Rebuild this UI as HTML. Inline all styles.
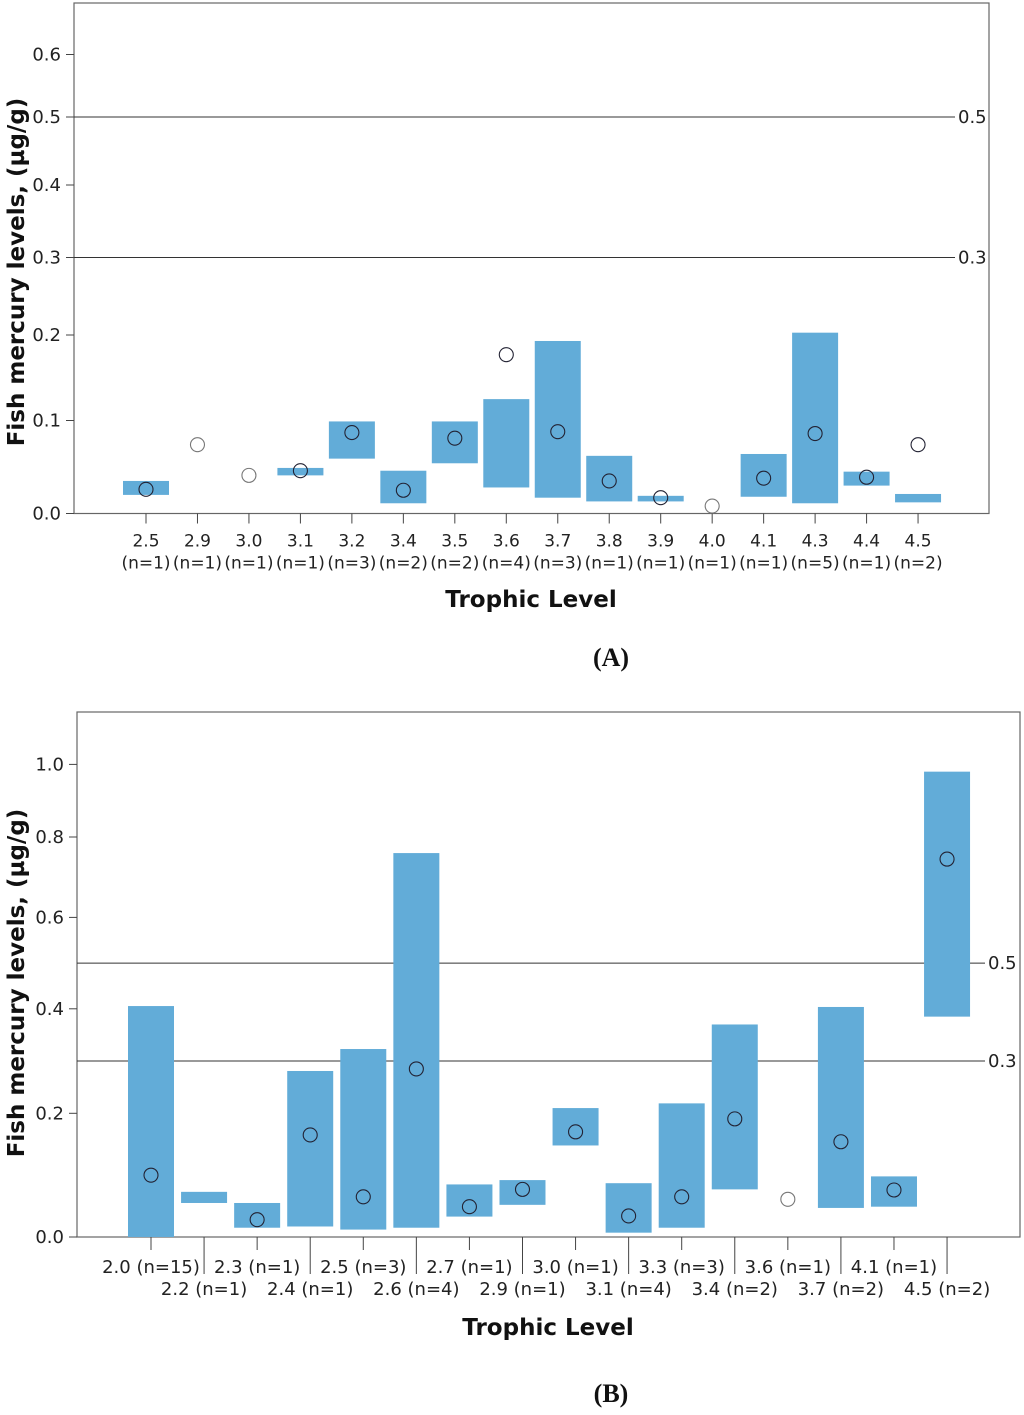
<!DOCTYPE html>
<html><head><meta charset="utf-8"><style>
body{margin:0;background:#fff;}
svg{display:block;font-family:"DejaVu Sans","Liberation Sans",sans-serif;}
</style></head><body>
<svg id="root" width="1024" height="1415" viewBox="0 0 1024 1415"></svg>
<script>
// Chart A data
const catsA = ["2.5","2.9","3.0","3.1","3.2","3.4","3.5","3.6","3.7","3.8","3.9","4.0","4.1","4.3","4.4","4.5"];
const nA = [1,1,1,1,3,2,2,4,3,1,1,1,1,5,1,2];
const hiA = [0.035,null,null,0.049,0.099,0.046,0.099,0.125,0.193,0.062,0.019,null,0.064,0.203,0.045,0.021];
const loA = [0.020,null,null,0.041,0.059,0.011,0.054,0.028,0.017,0.013,0.013,null,0.018,0.011,0.030,0.012];
const medA = [0.026,0.074,0.041,0.046,0.087,0.025,0.081,0.177,0.088,0.035,0.017,0.008,0.038,0.086,0.039,0.074];
const tickValsA = [0,0.1,0.2,0.3,0.4,0.5,0.6];
const tickLabelsA = ["0.0","0.1","0.2","0.3","0.4","0.5","0.6"];
const refA = [0.5,0.3];
// Chart B data
const catsB = ["2.0","2.2","2.3","2.4","2.5","2.6","2.7","2.9","3.0","3.1","3.3","3.4","3.6","3.7","4.1","4.5"];
const nB = [15,1,1,1,3,4,1,1,1,4,3,2,1,2,1,2];
const hiB = [0.406,0.073,0.055,0.281,0.323,0.76,0.085,0.092,0.21,0.087,0.219,0.37,null,0.404,0.098,0.98];
const loB = [0.0,0.055,0.015,0.017,0.012,0.015,0.033,0.052,0.148,0.007,0.015,0.077,null,0.047,0.049,0.385];
const medB = [0.100,null,0.028,0.165,0.065,0.285,0.049,0.077,0.17,0.034,0.065,0.191,0.061,0.154,0.076,0.745];
const tickValsB = [0,0.2,0.4,0.6,0.8,1.0];
const tickLabelsB = ["0.0","0.2","0.4","0.6","0.8","1.0"];
const refB = [0.5,0.3];

const NS="http://www.w3.org/2000/svg";
const root=document.getElementById('root');
function mk(tag,attrs,parent,text){const e=document.createElementNS(NS,tag);for(const k in attrs)e.setAttribute(k,attrs[k]);if(text!==undefined)e.textContent=text;(parent||root).appendChild(e);return e;}
// piecewise axis scale (non-linear axis as in the original)
function makeY(vals,pix){return v=>{for(let i=0;i<vals.length-1;i++){if(v<=vals[i+1]||i===vals.length-2){const t=(v-vals[i])/(vals[i+1]-vals[i]);return pix[i]+t*(pix[i+1]-pix[i]);}}};}
const BLUE="#62acd8";

function drawChart(o){
  const g=mk('g',{},root);
  
  
  const y=makeY(o.scaleVals,o.scalePix);
  const x=i=>o.x0+i*o.dx;
  const fr=mk('rect',{x:o.L,y:o.T,width:o.R-o.L,height:o.B-o.T,fill:'none',stroke:'#666','stroke-width':1.2},g);
  
  o.tickVals.forEach((v,i)=>{
    const yy=y(v);
    const t=mk('line',{x1:o.L-8,x2:o.L,y1:yy,y2:yy,stroke:'#444'},g);
    
    const lb=mk('text',{x:o.L-13,y:yy+6,'text-anchor':'end','font-size':18,fill:'#222'},g,o.tickLabels[i]);
    
  });
  o.refs.forEach(v=>{
    const yy=y(v);
    const l=mk('line',{x1:o.L,x2:o.refEnd,y1:yy,y2:yy,stroke:'#333','stroke-width':1},g);
    
    const t=mk('text',{x:o.refEnd+3,y:yy+6,'font-size':18,fill:'#222'},g,v.toFixed(1));
    
  });
  o.cats.forEach((c,i)=>{
    const cx=x(i);
    if(o.hi[i]!==null){
      const r=mk('rect',{x:cx-o.bw/2,y:y(o.hi[i]),width:o.bw,height:y(o.lo[i])-y(o.hi[i]),fill:BLUE},g);
      
    }
    if(o.med[i]!==null){
      const ci=mk('circle',{cx:cx,cy:y(o.med[i]),r:7,fill:'none',stroke:o.hi[i]===null?'#777':'#223',"stroke-width":1.1},g);
      
    }
    if(o.style==='A'){
      const tk=mk('line',{x1:cx,x2:cx,y1:o.B,y2:o.B+10,stroke:'#444'},g);
      
      const l1=mk('text',{x:cx,y:o.B+33,'text-anchor':'middle','font-size':17,fill:'#222'},g,c);
      
      const l2=mk('text',{x:cx,y:o.B+55,'text-anchor':'middle','font-size':17,fill:'#222'},g,'(n='+o.n[i]+')');
      
    } else {
      const odd=i%2===1;
      const tk=mk('line',{x1:cx,x2:cx,y1:o.B,y2:o.B+(odd?37:13),stroke:'#444'},g);
      
      const l=mk('text',{x:cx,y:o.B+(odd?58:36),'text-anchor':'middle','font-size':18,fill:'#222'},g,c+' (n='+o.n[i]+')');
      
    }
  });
  const xt=mk('text',{x:o.xtX,y:o.xtY,'text-anchor':'middle','font-size':23,'font-weight':'bold',fill:'#111'},g,'Trophic Level');
  
  const yt=mk('text',{x:0,y:0,'text-anchor':'middle','font-size':23,'font-weight':'bold',fill:'#111',transform:'translate(24,'+o.ytY+') rotate(-90)'},g,'Fish mercury levels, (µg/g)');
  
  const pl=mk('text',{x:611,y:o.plY,'text-anchor':'middle','font-size':26,'font-weight':'bold','font-family':'"Liberation Serif",serif',fill:'#111'},g,o.panel);
  
}

drawChart({name:'chart-a',style:'A',L:74,R:989,T:3,B:513.5,
  scaleVals:[0,0.1,0.2,0.3,0.4,0.5,0.6,0.7],scalePix:[513.5,420.5,335,257.5,185,117,54.5,-5],
  tickVals:tickValsA,tickLabels:tickLabelsA,refs:refA,refEnd:955,
  cats:catsA,n:nA,hi:hiA,lo:loA,med:medA,x0:146,dx:51.47,bw:46,
  xtX:531,xtY:607,ytY:272,plY:666,panel:'(A)'});
drawChart({name:'chart-b',style:'B',L:77,R:1020,T:712,B:1237,
  scaleVals:[0,0.2,0.4,0.6,0.8,1.0,1.2],scalePix:[1237,1113.3,1008.8,917.4,837,764.4,700],
  tickVals:tickValsB,tickLabels:tickLabelsB,refs:refB,refEnd:985,
  cats:catsB,n:nB,hi:hiB,lo:loB,med:medB,x0:151,dx:53.07,bw:46,
  xtX:548,xtY:1335,ytY:983,plY:1402,panel:'(B)'});
</script>
</body></html>
